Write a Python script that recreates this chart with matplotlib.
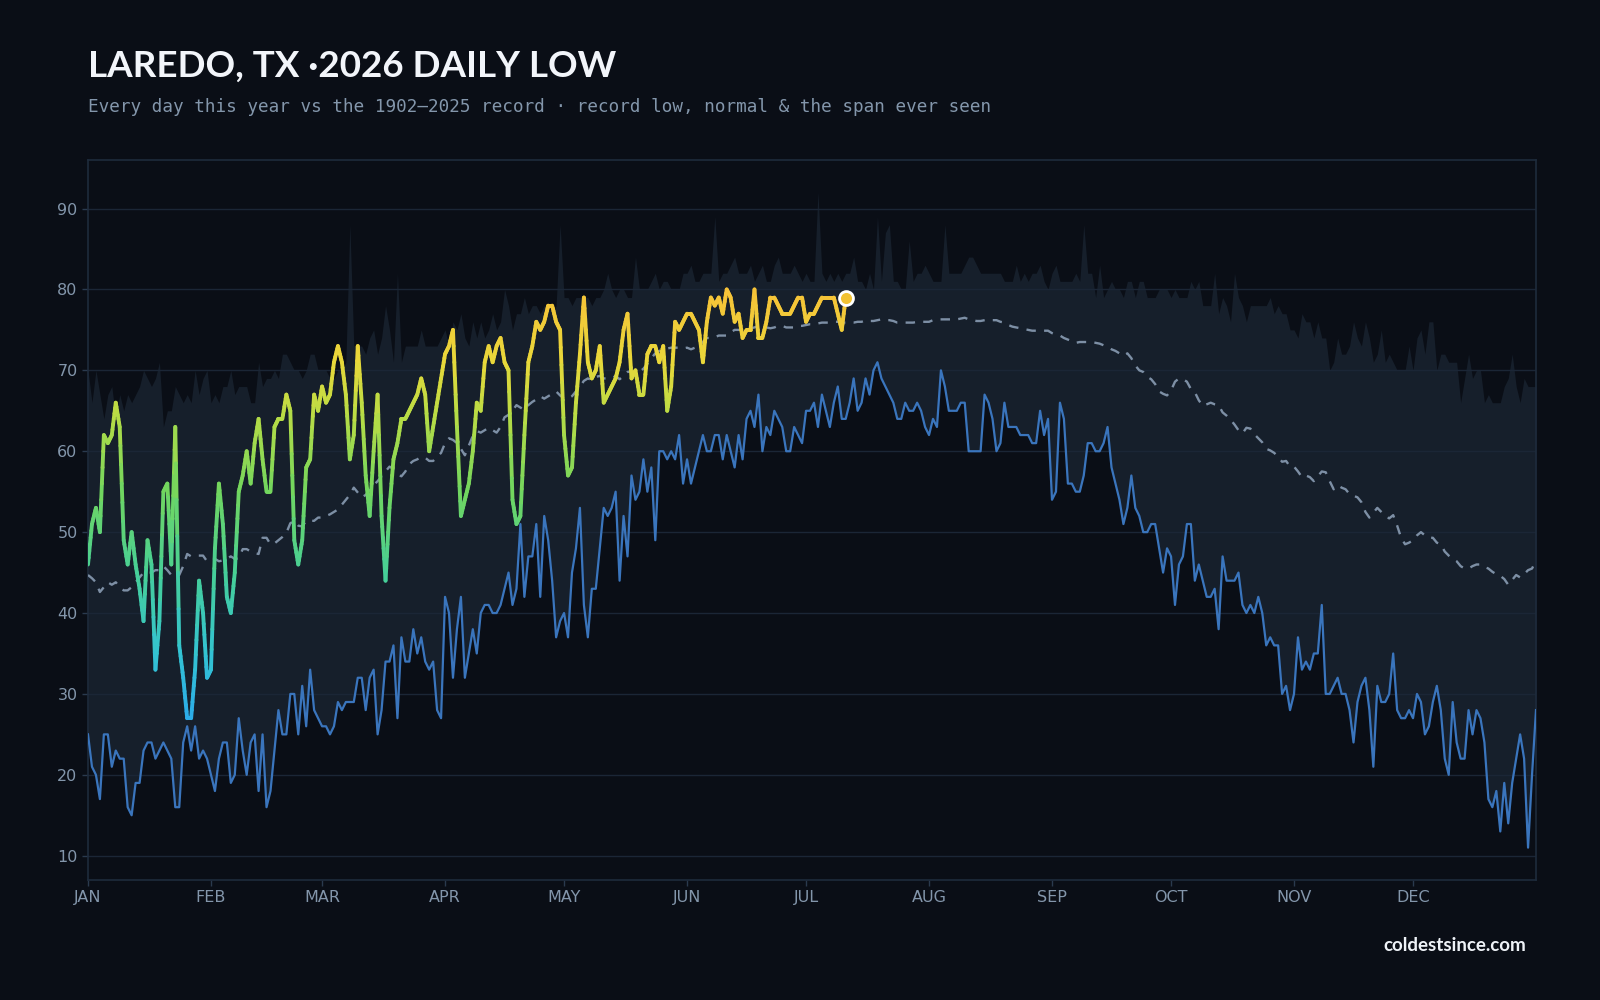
import numpy as np
import matplotlib
matplotlib.use("Agg")
import matplotlib.pyplot as plt
from matplotlib.collections import LineCollection
from matplotlib.colors import LinearSegmentedColormap, Normalize

# 2026 daily lows, Jan 1 .. Jul 11
lows_2026 = [
    46, 51, 53, 50, 62, 61, 62, 66, 63, 49, 46, 50, 46, 43, 39, 49, 46, 33, 39, 55,
    56, 46, 63, 36, 32, 27, 27, 33, 44, 40, 32, 33, 48, 56, 51, 42, 40, 45, 55, 57,
    60, 56, 61, 64, 59, 55, 55, 63, 64, 64, 67, 65, 49, 46, 49, 58, 59, 67, 65, 68,
    66, 67, 71, 73, 71, 67, 59, 62, 73, 66, 57, 52, 60, 67, 52, 44, 53, 59, 61, 64,
    64, 65, 66, 67, 69, 67, 60, 63, 66, 69, 72, 73, 75, 63, 52, 54, 56, 60, 66, 65,
    71, 73, 71, 73, 74, 71, 70, 54, 51, 52, 62, 71, 73, 76, 75, 76, 78, 78, 76, 75,
    62, 57, 58, 66, 72, 79, 71, 69, 70, 73, 66, 67, 68, 69, 71, 75, 77, 69, 70, 67,
    67, 72, 73, 73, 71, 73, 65, 68, 76, 75, 76, 77, 77, 76, 75, 71, 76, 79, 78, 79,
    77, 80, 79, 76, 77, 74, 75, 75, 80, 74, 74, 76, 79, 79, 78, 77, 77, 77, 78, 79,
    79, 76, 77, 77, 78, 79, 79, 79, 79, 77, 75, 79,
]

# 1902-2025 record low for each day of the year
record_low = [
    25, 21, 20, 17, 25, 25, 21, 23, 22, 22, 16, 15, 19, 19, 23, 24, 24, 22, 23, 24,
    23, 22, 16, 16, 24, 26, 23, 26, 22, 23, 22, 20, 18, 22, 24, 24, 19, 20, 27, 23,
    20, 24, 25, 18, 25, 16, 18, 23, 28, 25, 25, 30, 30, 25, 31, 26, 33, 28, 27, 26,
    26, 25, 26, 29, 28, 29, 29, 29, 32, 32, 28, 32, 33, 25, 28, 34, 34, 36, 27, 37,
    34, 34, 38, 35, 37, 34, 33, 34, 28, 27, 42, 40, 32, 38, 42, 32, 35, 38, 35, 40,
    41, 41, 40, 40, 41, 43, 45, 41, 43, 51, 42, 47, 47, 51, 42, 52, 49, 44, 37, 39,
    40, 37, 45, 48, 53, 41, 37, 43, 43, 48, 53, 52, 53, 55, 44, 52, 47, 57, 54, 55,
    59, 55, 58, 49, 60, 60, 59, 60, 59, 62, 56, 59, 56, 58, 60, 62, 60, 60, 62, 62,
    59, 62, 60, 58, 62, 59, 64, 65, 63, 67, 60, 63, 62, 65, 64, 63, 60, 60, 63, 62,
    61, 65, 65, 66, 63, 67, 65, 63, 66, 68, 64, 64, 66, 69, 65, 66, 69, 67, 70, 71,
    69, 68, 67, 66, 64, 64, 66, 65, 65, 66, 65, 63, 62, 64, 63, 70, 68, 65, 65, 65,
    66, 66, 60, 60, 60, 60, 67, 66, 64, 60, 61, 66, 63, 63, 63, 62, 62, 62, 61, 61,
    65, 62, 64, 54, 55, 66, 64, 56, 56, 55, 55, 57, 61, 61, 60, 60, 61, 63, 58, 56,
    54, 51, 53, 57, 53, 52, 50, 50, 51, 51, 48, 45, 48, 47, 41, 46, 47, 51, 51, 44,
    46, 44, 42, 42, 43, 38, 47, 44, 44, 44, 45, 41, 40, 41, 40, 42, 40, 36, 37, 36,
    36, 30, 31, 28, 30, 37, 33, 34, 33, 35, 35, 41, 30, 30, 31, 32, 30, 30, 28, 24,
    29, 31, 32, 28, 21, 31, 29, 29, 30, 35, 28, 27, 27, 28, 27, 30, 29, 25, 26, 29,
    31, 28, 22, 20, 29, 24, 22, 22, 28, 25, 28, 27, 24, 17, 16, 18, 13, 19, 14, 19,
    22, 25, 22, 11, 20, 28,
]

# record (warmest) low for each day of the year
record_high = [
    70, 66, 70, 67, 64, 67, 68, 64, 67, 65, 67, 66, 67, 68, 70, 69, 68, 69, 71, 63,
    65, 65, 68, 67, 66, 67, 66, 70, 67, 69, 70, 66, 67, 66, 68, 68, 70, 67, 68, 68,
    68, 66, 66, 71, 68, 69, 69, 70, 69, 72, 72, 71, 70, 70, 69, 70, 72, 72, 70, 70,
    70, 69, 69, 70, 70, 71, 88, 73, 73, 73, 72, 74, 75, 72, 74, 78, 75, 71, 82, 71,
    73, 73, 73, 73, 75, 73, 73, 73, 73, 74, 75, 73, 76, 75, 77, 74, 73, 76, 74, 76,
    74, 75, 77, 75, 76, 80, 78, 75, 77, 77, 79, 77, 78, 78, 77, 78, 78, 77, 78, 88,
    79, 79, 78, 79, 79, 79, 79, 78, 79, 79, 80, 82, 80, 79, 80, 80, 79, 79, 84, 80,
    80, 80, 81, 82, 80, 81, 81, 80, 80, 80, 82, 82, 83, 81, 81, 82, 82, 82, 89, 81,
    82, 82, 83, 84, 82, 82, 82, 83, 81, 82, 83, 81, 81, 83, 84, 82, 82, 82, 83, 82,
    81, 82, 81, 81, 92, 82, 81, 82, 81, 82, 81, 82, 82, 84, 81, 81, 80, 82, 80, 89,
    81, 87, 88, 81, 81, 80, 80, 86, 81, 82, 82, 83, 82, 81, 81, 81, 88, 82, 82, 82,
    82, 83, 84, 84, 83, 82, 82, 82, 82, 82, 82, 81, 81, 81, 83, 81, 82, 81, 82, 82,
    83, 81, 80, 82, 83, 81, 81, 81, 81, 82, 81, 88, 82, 82, 79, 83, 79, 80, 81, 80,
    80, 79, 81, 81, 79, 81, 81, 79, 79, 79, 80, 80, 80, 79, 80, 79, 79, 79, 81, 80,
    81, 78, 78, 78, 82, 77, 79, 78, 76, 82, 79, 78, 76, 78, 78, 78, 78, 78, 79, 77,
    78, 77, 77, 75, 75, 74, 77, 76, 76, 74, 76, 74, 74, 70, 71, 74, 72, 72, 73, 76,
    74, 73, 76, 74, 71, 72, 75, 71, 72, 71, 70, 70, 70, 73, 70, 74, 75, 72, 76, 76,
    70, 72, 72, 71, 71, 71, 66, 69, 72, 69, 70, 70, 66, 67, 66, 66, 66, 68, 69, 72,
    68, 66, 69, 68, 68, 68,
]

# normal daily low
normal = [
    44.7, 44.3, 43.8, 42.6, 43.2, 43.8, 43.5, 43.8, 43.2, 42.8, 42.8, 43.2, 43.8, 44.4, 45.0, 45.0,
    45.0, 45.3, 45.3, 45.8, 45.3, 44.7, 44.7, 44.7, 45.8, 47.3, 47.0, 47.1, 47.1, 47.1, 46.4, 46.7,
    46.7, 46.4, 46.5, 46.7, 47.0, 46.7, 46.8, 47.9, 47.9, 47.6, 47.4, 47.3, 49.3, 49.3, 48.5, 48.6,
    49.0, 49.4, 49.9, 51.1, 51.4, 50.8, 50.7, 51.4, 51.4, 51.4, 51.8, 51.8, 52.0, 52.2, 52.5, 52.8,
    53.4, 54.0, 54.6, 55.5, 54.9, 54.3, 54.6, 55.2, 55.8, 56.3, 56.9, 57.5, 58.1, 57.8, 57.2, 56.9,
    57.5, 58.4, 58.8, 59.0, 59.3, 59.2, 58.8, 58.8, 59.3, 59.8, 61.0, 61.6, 61.4, 61.0, 60.3, 59.5,
    60.7, 61.9, 62.5, 62.3, 62.6, 62.9, 62.6, 62.3, 63.0, 64.2, 64.5, 65.0, 65.7, 65.4, 65.1, 65.7,
    66.1, 66.4, 66.8, 66.5, 66.8, 67.1, 67.4, 66.9, 66.5, 66.5, 66.8, 67.4, 68.0, 68.7, 69.0, 68.8,
    69.2, 69.3, 69.0, 69.0, 69.0, 69.3, 68.9, 69.3, 69.8, 69.9, 69.5, 69.8, 70.2, 70.8, 71.5, 72.1,
    72.4, 72.6, 72.7, 72.8, 72.8, 72.8, 72.7, 72.8, 72.6, 72.8, 73.1, 73.5, 74.0, 74.0, 74.1, 74.3,
    74.3, 74.3, 74.7, 75.0, 75.0, 75.1, 75.0, 75.2, 75.3, 75.5, 75.5, 75.3, 75.2, 75.3, 75.5, 75.5,
    75.3, 75.3, 75.3, 75.5, 75.5, 75.6, 75.7, 75.7, 75.8, 75.9, 75.9, 75.9, 76.0, 76.0, 75.9, 75.9,
    75.9, 75.9, 76.0, 76.0, 76.2, 76.1, 76.1, 76.2, 76.3, 76.2, 76.2, 76.1, 75.9, 75.9, 75.9, 75.9,
    75.9, 76.0, 76.0, 76.0, 76.0, 76.2, 76.3, 76.3, 76.3, 76.3, 76.3, 76.3, 76.4, 76.5, 76.3, 76.2,
    76.1, 76.1, 76.2, 76.3, 76.2, 76.2, 76.0, 75.9, 75.6, 75.4, 75.3, 75.2, 75.1, 75.0, 74.9, 74.9,
    74.9, 74.9, 74.9, 74.6, 74.4, 74.3, 74.0, 73.8, 73.6, 73.4, 73.5, 73.5, 73.5, 73.5, 73.4, 73.3,
    73.1, 72.9, 72.6, 72.4, 72.1, 71.8, 72.1, 71.5, 70.6, 70.0, 69.8, 69.2, 68.9, 68.3, 67.4, 67.1,
    66.9, 67.5, 68.6, 69.0, 68.9, 68.6, 67.7, 67.3, 66.3, 65.6, 65.8, 66.0, 65.8, 65.7, 64.8, 64.4,
    63.9, 63.3, 62.6, 62.2, 62.9, 62.8, 62.1, 61.6, 61.1, 60.3, 60.1, 59.8, 59.3, 58.7, 58.8, 58.1,
    58.1, 57.5, 56.8, 57.0, 56.8, 56.3, 56.9, 57.5, 57.4, 56.3, 55.3, 55.8, 55.5, 55.3, 54.7, 54.5,
    54.3, 53.7, 52.5, 51.8, 52.4, 53.0, 52.5, 52.0, 51.7, 52.1, 50.8, 49.3, 48.5, 48.7, 49.0, 49.6,
    50.0, 49.6, 49.3, 49.3, 48.7, 48.5, 47.6, 47.1, 46.7, 46.4, 45.8, 45.5, 45.5, 45.8, 46.0, 46.0,
    45.7, 45.5, 45.1, 44.8, 44.6, 44.2, 43.5, 44.1, 44.7, 44.4, 44.8, 45.3, 45.5, 46.5,
]

month_labels = ["JAN", "FEB", "MAR", "APR", "MAY", "JUN",
                "JUL", "AUG", "SEP", "OCT", "NOV", "DEC"]

BG = "#0a0e16"
BAND = "#161f2b"
GRID = "#1b2636"
MUTED = "#8396ab"

months = np.arange("2026-01", "2027-01", dtype="datetime64[M]")
month_days = (months.astype("datetime64[D]") - np.datetime64("2026-01-01")).astype(int)

days = np.arange(len(record_low))
days26 = np.arange(len(lows_2026))
y26 = np.array(lows_2026, dtype=float)

fig = plt.figure(figsize=(16, 10), dpi=100, facecolor=BG)
ax = fig.add_axes([0.055, 0.12, 0.905, 0.72], facecolor=BG)

ax.fill_between(days, record_low, record_high, color=BAND, lw=0, zorder=1)
for v in range(10, 100, 10):
    ax.axhline(v, color=GRID, lw=1, zorder=1.5)

ax.plot(days, record_low, color="#3a75bd", lw=1.6, zorder=3)
ax.plot(days, normal, color="#7d8fa5", lw=1.7, dashes=(4, 3.5), zorder=3)

# 2026 line, coloured by temperature
cmap = LinearSegmentedColormap.from_list("lows", [
    (0.00, "#2aa6ee"), (0.18, "#33c3d3"), (0.36, "#46cf98"),
    (0.55, "#72d65e"), (0.72, "#b9dc45"), (0.84, "#e9d83a"), (1.00, "#f7c238")])
norm = Normalize(25, 80)
sub = 6
segs, vals = [], []
for i in range(len(y26) - 1):
    xs = np.linspace(days26[i], days26[i + 1], sub + 1)
    ys = np.linspace(y26[i], y26[i + 1], sub + 1)
    for k in range(sub):
        segs.append([(xs[k], ys[k]), (xs[k + 1], ys[k + 1])])
        vals.append((ys[k] + ys[k + 1]) / 2)
lc = LineCollection(segs, colors=cmap(norm(np.array(vals))), linewidths=2.8,
                    capstyle="round", joinstyle="round", zorder=4)
ax.add_collection(lc)
ax.plot(days26[-1], y26[-1], "o", ms=10, mfc="#f2c232", mec="white", mew=2, zorder=5)

ax.set_xlim(0, 365)
ax.set_ylim(7, 96)
ax.set_yticks(range(10, 100, 10))
ax.set_xticks(month_days)
ax.set_xticklabels(month_labels)
ax.tick_params(colors="#2a3a4e", labelcolor=MUTED, labelsize=11.5, length=4, width=1)
for s in ax.spines.values():
    s.set_color("#1e2b3c")
    s.set_linewidth(1.2)

fig.text(0.055, 0.923, "LAREDO, TX \u00b72026 DAILY LOW", color="#f2f5fa",
         fontsize=26.5, fontweight="bold", family=["Lato", "DejaVu Sans"], va="baseline")
fig.text(0.055, 0.888, "Every day this year vs the 1902\u20132025 record \u00b7 record low, normal & the span ever seen",
         color=MUTED, fontsize=12.7, family="DejaVu Sans Mono", va="baseline")
fig.text(0.954, 0.049, "coldestsince.com", color="#eef2f7", fontsize=13.5,
         fontweight="bold", family=["Lato", "DejaVu Sans"], ha="right", va="baseline")

fig.savefig("out.png", dpi=100, facecolor=BG)
